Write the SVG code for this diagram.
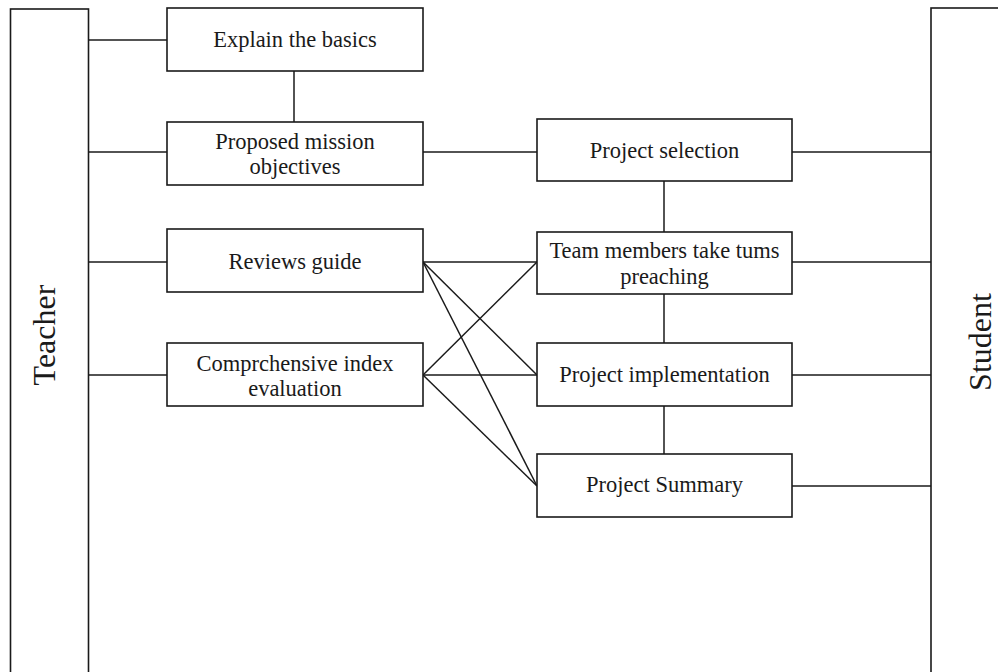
<svg xmlns="http://www.w3.org/2000/svg" width="998" height="672" viewBox="0 0 998 672">
<style>
.box{fill:#fff;stroke:#1a1a1a;stroke-width:1.6}
.ln{fill:none;stroke:#1a1a1a;stroke-width:1.5}
text{font-family:"Liberation Serif","Times New Roman",serif;fill:#1a1a1a;text-anchor:middle}
.t{font-size:22.5px}
.big{font-size:32px}
</style>
<rect width="998" height="672" fill="#fff"/>
<g id="connectors" class="ln">
<line x1="88.5" y1="40" x2="167" y2="40"/>
<line x1="88.5" y1="152" x2="167" y2="152"/>
<line x1="88.5" y1="262" x2="167" y2="262"/>
<line x1="88.5" y1="375" x2="167" y2="375"/>
<line x1="294" y1="71" x2="294" y2="122"/>
<line x1="423" y1="152" x2="537" y2="152"/>
<line x1="664" y1="181" x2="664" y2="232"/>
<line x1="664" y1="294" x2="664" y2="343"/>
<line x1="664" y1="406" x2="664" y2="454"/>
<line x1="423" y1="262" x2="537" y2="262"/>
<line x1="423" y1="262" x2="537" y2="375"/>
<line x1="423" y1="262" x2="537" y2="486"/>
<line x1="423" y1="375" x2="537" y2="262"/>
<line x1="423" y1="375" x2="537" y2="375"/>
<line x1="423" y1="375" x2="537" y2="486"/>
<line x1="792" y1="152" x2="931" y2="152"/>
<line x1="792" y1="262" x2="931" y2="262"/>
<line x1="792" y1="375" x2="931" y2="375"/>
<line x1="792" y1="486" x2="931" y2="486"/>
</g>
<g id="teacher">
<rect class="box" x="10.5" y="9" width="78" height="700"/>
<text class="big" transform="translate(55,335) rotate(-90)">Teacher</text>
</g>
<g id="student">
<rect class="box" x="931" y="8" width="100" height="700"/>
<text class="big" transform="translate(991,342) rotate(-90)">Student</text>
</g>
<g id="explain">
<rect class="box" x="167" y="8" width="256" height="63"/>
<text class="t" x="295" y="47">Explain the basics</text>
</g>
<g id="proposed">
<rect class="box" x="167" y="122" width="256" height="63"/>
<text class="t" x="295" y="149">Proposed mission</text>
<text class="t" x="295" y="174">objectives</text>
</g>
<g id="reviews">
<rect class="box" x="167" y="229" width="256" height="63"/>
<text class="t" x="295" y="269">Reviews guide</text>
</g>
<g id="comprehensive">
<rect class="box" x="167" y="343" width="256" height="63"/>
<text class="t" x="295" y="371">Comprchensive index</text>
<text class="t" x="295" y="396">evaluation</text>
</g>
<g id="selection">
<rect class="box" x="537" y="119" width="255" height="62"/>
<text class="t" x="664.5" y="158">Project selection</text>
</g>
<g id="team">
<rect class="box" x="537" y="232" width="255" height="62"/>
<text class="t" x="664.5" y="258">Team members take tums</text>
<text class="t" x="664.5" y="284">preaching</text>
</g>
<g id="implementation">
<rect class="box" x="537" y="343" width="255" height="63"/>
<text class="t" x="664.5" y="382">Project implementation</text>
</g>
<g id="summary">
<rect class="box" x="537" y="454" width="255" height="63"/>
<text class="t" x="664.5" y="492">Project Summary</text>
</g>
</svg>
